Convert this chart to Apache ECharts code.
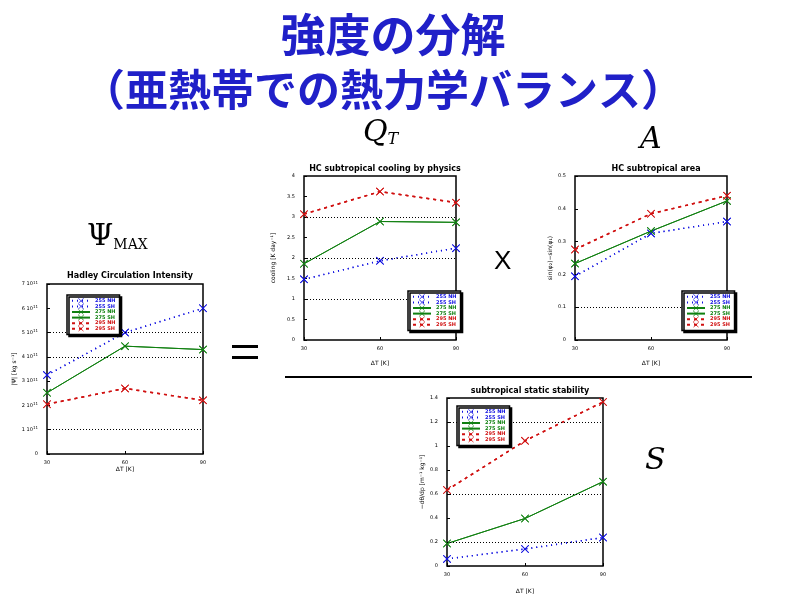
<!DOCTYPE html>
<html><head><meta charset="utf-8">
<script src="https://cdn.jsdelivr.net/npm/echarts@6/dist/echarts.min.js"></script>
<style>html,body{margin:0;padding:0;background:#fff}#c{width:800px;height:600px}</style>
</head><body><div id="c"></div>
<script>
// ---- data ----
const dT = [30, 60, 90];
const names = ['255 NH','255 SH','275 NH','275 SH','295 NH','295 SH'];
// Hadley circulation intensity [kg/s]
const psi255 = [3.25e11, 5.0e11, 6.0e11];
const psi275 = [2.52e11, 4.44e11, 4.30e11];
const psi295 = [2.05e11, 2.70e11, 2.21e11];
// subtropical cooling by physics [K/day]
const q255 = [1.48, 1.93, 2.24];
const q275 = [1.86, 2.89, 2.87];
const q295 = [3.07, 3.62, 3.35];
// subtropical area
const a255 = [0.194, 0.325, 0.361];
const a275 = [0.233, 0.332, 0.424];
const a295 = [0.276, 0.385, 0.440];
// static stability
const s255 = [0.059, 0.142, 0.237];
const s275 = [0.187, 0.396, 0.703];
const s295 = [0.633, 1.043, 1.367];
// dotted reference lines
const grid1Lines = [1e11, 4e11, 5e11];
const grid2Lines = [1, 2, 3];
const grid3Lines = [0.1];
const grid4Lines = [0.2, 0.6, 1.2];

const BLUE = '#1010e0', GREEN = '#108010', RED = '#d01010';
const XSYM = 'path://M0,0.7L0.7,0L5,4.3L9.3,0L10,0.7L5.7,5L10,9.3L9.3,10L5,5.7L0.7,10L0,9.3L4.3,5Z';
const styles = [
  {color: BLUE, type: [1, 4], width: 1.5},
  {color: GREEN, type: 'solid', width: 1},
  {color: RED, type: [3, 4], width: 1.5}
];

function pair(idx, vals, gi) {
  const st = styles[idx];
  return [0, 1].map(h => ({
    name: names[idx * 2 + h], type: 'line', xAxisIndex: gi, yAxisIndex: gi,
    data: dT.map((x, i) => [x, vals[i]]),
    symbol: XSYM, symbolSize: 8, showSymbol: true,
    itemStyle: {color: st.color},
    lineStyle: {color: st.color, type: st.type, width: st.width},
    animation: false, z: 3
  }));
}
function refLines(gi, vals) {
  return {type: 'line', xAxisIndex: gi, yAxisIndex: gi, data: [], silent: true,
    markLine: {silent: true, symbol: 'none', label: {show: false},
      lineStyle: {color: '#000', type: [1, 2], width: 1},
      data: vals.map(v => ({yAxis: v}))}, z: 1};
}
const grids = [
  {left: 47, top: 284, width: 156, height: 170},
  {left: 304, top: 176, width: 152, height: 164},
  {left: 575, top: 176, width: 152, height: 164},
  {left: 447, top: 398, width: 156, height: 168}
].map(g => Object.assign(g, {show: true, borderColor: '#000', borderWidth: 1.5, backgroundColor: 'transparent'}));

function xAx(gi, gap) {
  return {type: 'value', gridIndex: gi, min: 30, max: 90, interval: 30,
    name: 'ΔT [K]', nameLocation: 'middle', nameGap: gap,
    nameTextStyle: {fontSize: 6, color: '#000', fontFamily: 'DejaVu Sans'},
    axisLine: {show: false}, axisTick: {show: true, inside: true, length: 3, lineStyle: {color: '#000'}},
    axisLabel: {fontSize: 5, color: '#000', margin: 6, fontFamily: 'DejaVu Sans'},
    splitLine: {show: false}};
}
function yAx(gi, min, max, interval, name, gap, fmt) {
  const o = {type: 'value', gridIndex: gi, min, max, interval,
    name, nameLocation: 'middle', nameGap: gap, nameRotate: 90,
    nameTextStyle: {fontSize: 6, color: '#000', fontFamily: 'DejaVu Sans'},
    axisLine: {show: false}, axisTick: {show: true, inside: true, length: 3, lineStyle: {color: '#000'}},
    axisLabel: {fontSize: 5, color: '#000', margin: 9, fontFamily: 'DejaVu Sans'},
    splitLine: {show: false}};
  if (fmt) o.axisLabel = Object.assign(o.axisLabel, fmt);
  return o;
}
function legend(pos) {
  return Object.assign({orient: 'vertical', show: true, itemGap: 0, itemWidth: 18, itemHeight: 7,
    padding: [3, 4, 3, 4], backgroundColor: '#fff', borderColor: '#000', borderWidth: 1.5,
    shadowColor: '#000', shadowOffsetX: 2, shadowOffsetY: 2, shadowBlur: 0,
    textStyle: {fontSize: 5, fontWeight: 'bold', fontFamily: 'DejaVu Sans'}, z: 10,
    selectedMode: false,
    data: names.map((n, i) => ({name: n, textStyle: {color: styles[Math.floor(i / 2)].color}}))}, pos);
}
const titleStyle = {fontSize: 8, fontWeight: 'bold', color: '#000', fontFamily: 'DejaVu Sans'};

const series = [].concat(
  refLines(0, grid1Lines), pair(0, psi255, 0), pair(1, psi275, 0), pair(2, psi295, 0),
  refLines(1, grid2Lines), pair(0, q255, 1), pair(1, q275, 1), pair(2, q295, 1),
  refLines(2, grid3Lines), pair(0, a255, 2), pair(1, a275, 2), pair(2, a295, 2),
  refLines(3, grid4Lines), pair(0, s255, 3), pair(1, s275, 3), pair(2, s295, 3)
);

const option = {
  backgroundColor: '#fff',
  animation: false,
  grid: grids,
  xAxis: [xAx(0, 12), xAx(1, 20), xAx(2, 20), xAx(3, 22)],
  yAxis: [
    yAx(0, 0, 7e11, 1e11, '|Ψ| [kg s⁻¹]', 30, {
      formatter: v => v === 0 ? '0' : '{a|' + Math.round(v / 1e11) + ' 10}{s|11}',
      rich: {a: {fontSize: 5, color: '#000'}, s: {fontSize: 4, color: '#000', verticalAlign: 'top', padding: [0, 0, 3, 0]}}
    }),
    yAx(1, 0, 4, 0.5, 'cooling [K day⁻¹]', 28),
    yAx(2, 0, 0.5, 0.1, 'sin(φ₂)−sin(φ₁)', 22),
    yAx(3, 0, 1.4, 0.2, '−dθ/dp [m⁻¹ kg⁻¹]', 22)
  ],
  legend: [
    legend({left: 67, top: 295}),
    legend({left: 408, top: 291}),
    legend({left: 682, top: 291}),
    legend({left: 457, top: 406})
  ],
  title: [
    {text: 'Hadley Circulation Intensity', left: 125, top: 267, textAlign: 'center', textStyle: titleStyle},
    {text: 'HC subtropical cooling by physics', left: 380, top: 160, textAlign: 'center', textStyle: titleStyle},
    {text: 'HC subtropical area', left: 651, top: 160, textAlign: 'center', textStyle: titleStyle},
    {text: 'subtropical static stability', left: 525, top: 382, textAlign: 'center', textStyle: titleStyle}
  ],
  graphic: [
    {type: 'text', x: 393, y: 12, style: {text: '強度の分解', textAlign: 'center', font: 'bold 45px "Noto Sans CJK JP"', fill: '#2020c8'}},
    {type: 'text', x: 383, y: 68, style: {text: '（亜熱帯での熱力学バランス）', textAlign: 'center', font: 'bold 43px "Noto Sans CJK JP"', fill: '#2020c8'}},
    {type: 'text', left: 87, top: 222, style: {text: '{p|Ψ}{s|MAX}', rich: {p: {fontSize: 30, fontFamily: 'DejaVu Serif', fill: '#000'}, s: {fontSize: 14, fontFamily: 'DejaVu Serif', fill: '#000', verticalAlign: 'bottom', padding: [12, 0, 0, 0]}}}},
    {type: 'text', left: 363, top: 118, style: {text: '{q|Q}{t|T}', rich: {q: {fontSize: 30, fontStyle: 'italic', fontFamily: 'DejaVu Serif', fill: '#000'}, t: {fontSize: 16, fontStyle: 'italic', fontFamily: 'DejaVu Serif', fill: '#000', padding: [14, 0, 0, 0]}}}},
    {type: 'text', left: 640, top: 125, style: {text: 'A', font: 'italic 30px "DejaVu Serif"', fill: '#000'}},
    {type: 'text', left: 645, top: 446, style: {text: 'S', font: 'italic 30px "DejaVu Serif"', fill: '#000'}},
    {type: 'rect', shape: {x: 232, y: 345, width: 26, height: 3}, style: {fill: '#000'}},
    {type: 'rect', shape: {x: 232, y: 356, width: 26, height: 3}, style: {fill: '#000'}},
    {type: 'text', left: 494, top: 249, style: {text: 'X', font: '26px "Liberation Sans"', fill: '#000'}},
    {type: 'line', shape: {x1: 285, y1: 377, x2: 752, y2: 377}, style: {stroke: '#000', lineWidth: 2}}
  ],
  series
};
const chart = echarts.init(document.getElementById('c'));
chart.setOption(option);
</script></body></html>
